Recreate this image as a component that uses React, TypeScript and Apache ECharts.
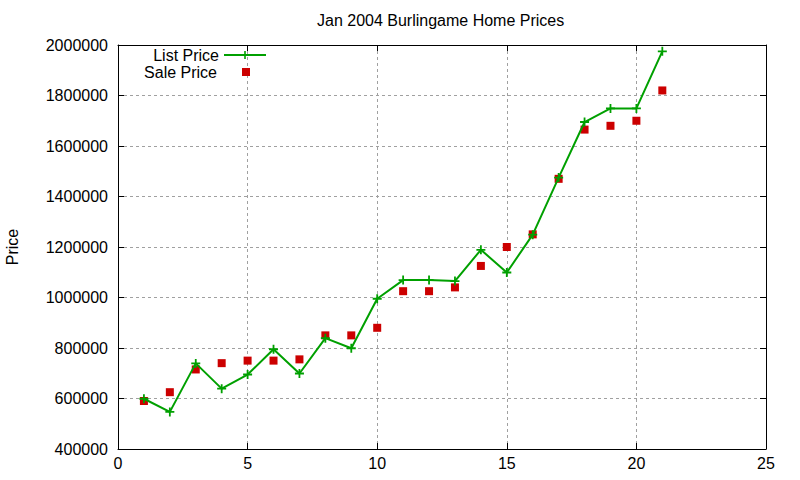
import React, { useEffect, useRef } from 'react';
import * as echarts from 'echarts';

const days = [1, 2, 3, 4, 5, 6, 7, 8, 9, 10, 11, 12, 13, 14, 15, 16, 17, 18, 19, 20, 21];
const listPrice = [
  599000, 547000, 739000, 639000, 695000, 795000, 699000, 839000, 799000, 995000, 1069000,
  1069000, 1065000, 1189000, 1099000, 1249000, 1475000, 1695000, 1749000, 1749000, 1975000
];
const salePrice = [
  590000, 625000, 715000, 740000, 750000, 750000, 755000, 850000, 850000, 880000, 1025000,
  1025000, 1040000, 1125000, 1200000, 1250000, 1470000, 1665000, 1680000, 1700000, 1820000
];

const PLUS = 'path://M4,0H6V10H4ZM0,4H10V6H0Z';
const GREEN = '#00a000';
const RED = '#cc0000';
const FONT = 'Liberation Sans, Arial, sans-serif';

const App: React.FC = () => {
  const chartRef = useRef<HTMLDivElement>(null);

  useEffect(() => {
    if (!chartRef.current) return;
    const chart = echarts.init(chartRef.current, undefined, { renderer: 'svg' });

    const gridLine = { show: true, lineStyle: { color: '#a0a0a0', type: [3, 3] as any, width: 1 } };
    const axisLine = { show: true, onZero: false, lineStyle: { color: '#000', width: 1 } };
    const tick = { show: true, inside: true, length: 6, lineStyle: { color: '#000' } };

    const option: echarts.EChartsOption = {
      animation: false,
      textStyle: { fontFamily: FONT },
      title: {
        text: 'Jan 2004 Burlingame Home Prices',
        left: 317,
        top: 12,
        padding: 0,
        textStyle: { fontSize: 16, fontWeight: 'normal', color: '#000', fontFamily: FONT }
      },
      legend: [
        {
          data: ['List Price'],
          right: 533,
          top: 47,
          padding: 0,
          align: 'right',
          itemWidth: 42,
          itemHeight: 10,
          textStyle: { fontSize: 16, color: '#000', fontFamily: FONT }
        },
        {
          data: [{ name: 'Sale Price', icon: 'rect' }],
          right: 550,
          top: 64,
          padding: 0,
          align: 'right',
          itemWidth: 8,
          itemHeight: 8,
          textStyle: { fontSize: 16, color: '#000', fontFamily: FONT, padding: [0, 20, 0, 0] }
        }
      ],
      grid: { left: 118, right: 34, top: 45, bottom: 31, outerBoundsMode: 'none' } as any,
      xAxis: [
        {
          type: 'value',
          min: 0,
          max: 25,
          interval: 5,
          axisLine,
          axisTick: tick,
          splitLine: gridLine,
          axisLabel: { fontSize: 16, color: '#000', margin: 6, fontFamily: FONT }
        },
        {
          type: 'value',
          position: 'top',
          min: 0,
          max: 25,
          interval: 5,
          axisLine,
          axisTick: tick,
          splitLine: { show: false },
          axisLabel: { show: false }
        }
      ],
      yAxis: [
        {
          type: 'value',
          min: 400000,
          max: 2000000,
          interval: 200000,
          name: 'Price',
          nameLocation: 'middle',
          nameRotate: 90,
          nameGap: 98,
          nameTextStyle: { fontSize: 16, color: '#000', fontFamily: FONT },
          axisLine,
          axisTick: tick,
          splitLine: gridLine,
          axisLabel: {
            fontSize: 16,
            color: '#000',
            margin: 10,
            fontFamily: FONT,
            formatter: (v: number) => String(v)
          }
        },
        {
          type: 'value',
          position: 'right',
          min: 400000,
          max: 2000000,
          interval: 200000,
          axisLine,
          axisTick: tick,
          splitLine: { show: false },
          axisLabel: { show: false }
        }
      ],
      series: [
        {
          name: 'List Price',
          type: 'line',
          data: days.map((d, i) => [d, listPrice[i]]),
          symbol: PLUS,
          symbolSize: 9,
          showAllSymbol: true,
          lineStyle: { color: GREEN, width: 2 },
          itemStyle: { color: GREEN },
          z: 3
        },
        {
          name: 'Sale Price',
          type: 'scatter',
          data: days.map((d, i) => [d, salePrice[i]]),
          symbol: 'rect',
          symbolSize: 8,
          itemStyle: { color: RED, opacity: 1 },
          z: 2
        }
      ]
    };

    chart.setOption(option);
    return () => chart.dispose();
  }, []);

  return (
    <div
      ref={chartRef}
      style={{ position: 'fixed', left: 0, top: 0, width: 800, height: 480, background: '#fff' }}
    />
  );
};

export default App;
